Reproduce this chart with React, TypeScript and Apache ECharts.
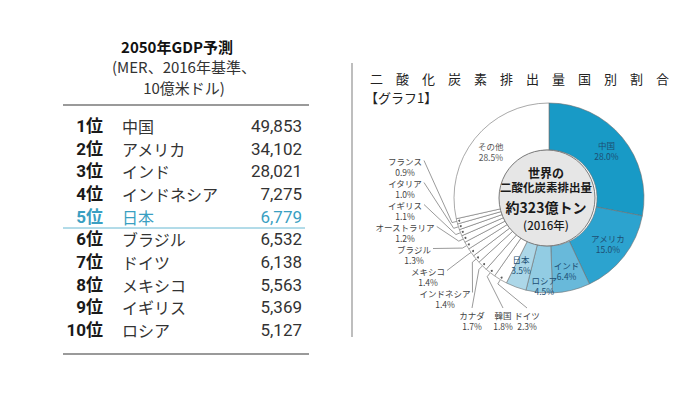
import React, { useEffect, useRef } from "react";
import * as echarts from "echarts";

// ---------------- data ----------------
const gdpTitle = ["2050年GDP予測", "(MER、2016年基準、", "10億米ドル)"];
const gdpRanks = ["1位", "2位", "3位", "4位", "5位", "6位", "7位", "8位", "9位", "10位"];
const gdpCountries = ["中国", "アメリカ", "インド", "インドネシア", "日本", "ブラジル", "ドイツ", "メキシコ", "イギリス", "ロシア"];
const gdpValues = [49853, 34102, 28021, 7275, 6779, 6532, 6138, 5563, 5369, 5127];
const gdpHighlight = "日本";

const co2Title = "二酸化炭素排出量国別割合";
const co2Subtitle = "【グラフ1】";
const co2CenterText = ["世界の", "二酸化炭素排出量", "約323億トン", "(2016年)"];
const co2Names = ["中国", "アメリカ", "インド", "ロシア", "日本", "ドイツ", "韓国", "カナダ", "インドネシア", "メキシコ", "ブラジル", "オーストラリア", "イギリス", "イタリア", "フランス", "その他"];
const co2Shares = [28.0, 15.0, 6.4, 4.5, 3.5, 2.3, 1.8, 1.7, 1.4, 1.4, 1.3, 1.2, 1.1, 1.0, 0.9, 28.5];

// ---------------- layout / style ----------------
const JP = '"Noto Sans CJK JP", "Noto Sans", sans-serif';
const NUM = 'Roboto, "Noto Sans CJK JP", sans-serif';
const HL_BLUE = "#3a9fc2";
const CX = 549;
const CY = 198;
const R_IN = 48;
const R_OUT = 95;
const LBL_FS = 8.5;
const LBL_LH = 11;

const sliceColors: Record<string, string> = {
  "中国": "#189ac6",
  "アメリカ": "#2ca3cf",
  "インド": "#68b9da",
  "ロシア": "#92cce3",
  "日本": "#acd7e8",
};
// label anchor (centre of the two-line label) for the small outside slices
const outLabelPos: Record<string, [number, number]> = {
  "ドイツ": [527, 320],
  "韓国": [503, 320],
  "カナダ": [472, 320],
  "インドネシア": [445, 298],
  "メキシコ": [428, 276],
  "ブラジル": [414, 254],
  "オーストラリア": [405, 232],
  "イギリス": [405, 210],
  "イタリア": [405, 188],
  "フランス": [405, 166],
};
const bottomLabels = new Set(["ドイツ", "韓国", "カナダ"]);
const insideShift: Record<string, { dx: number; dy: number }> = {
  "ロシア": { dx: 3, dy: 13 },
  "日本": { dx: -2, dy: -3 },
};

const total = co2Shares.reduce((a, b) => a + b, 0);

function buildOption(): any {
  const pieData = co2Names.map((name, i) => {
    const inside = !outLabelPos[name];
    return {
      name,
      value: co2Shares[i],
      itemStyle: { color: sliceColors[name] || "#ffffff" },
      label: inside
        ? { position: "inside", color: name === "その他" ? "#555" : "#1d4f73" }
        : { position: "outside", color: "#444" },
      labelLine: { show: !inside },
    };
  });

  // dots at the outer edge of small slices (through a polar scale)
  let cum = 0;
  const dotData: number[][] = [];
  co2Names.forEach((name, i) => {
    const mid = cum + co2Shares[i] / 2;
    cum += co2Shares[i];
    if (outLabelPos[name]) dotData.push([0.975, mid]);
  });

  const graphic: any[] = [];
  gdpTitle.forEach((t, i) => {
    graphic.push({
      type: "text",
      z: 100,
      style: {
        text: t,
        x: i === 0 ? 177 : 184,
        y: [46, 66, 87][i],
        textAlign: "center",
        textVerticalAlign: "middle",
        font: `${i === 0 ? "bold " : ""}15px ${JP}`,
        fill: i === 0 ? "#111" : "#333",
      },
    });
  });
  const rule = (x1: number, y1: number, x2: number, y2: number, stroke: string, w: number) => ({
    type: "line",
    z: 100,
    shape: { x1, y1, x2, y2 },
    style: { stroke, lineWidth: w },
  });
  graphic.push(rule(63, 105, 309, 105, "#9a9a9a", 2));
  graphic.push(rule(63, 228, 305, 228, "#66b8d2", 1));
  graphic.push(rule(63, 354, 309, 354, "#9a9a9a", 2));
  graphic.push(rule(352, 63, 352, 337, "#a8a8a8", 1.5));

  graphic.push({
    type: "text",
    z: 100,
    style: {
      text: co2Title.split("").join("\u3000"),
      x: 370,
      y: 78,
      textAlign: "left",
      textVerticalAlign: "middle",
      font: `13px ${JP}`,
      fill: "#222",
    },
  });
  graphic.push({
    type: "text",
    z: 100,
    style: {
      text: co2Subtitle,
      x: 365,
      y: 97,
      textAlign: "left",
      textVerticalAlign: "middle",
      font: `13px ${JP}`,
      fill: "#222",
    },
  });
  graphic.push({
    type: "circle",
    z: 100,
    shape: { cx: CX - 2, cy: CY, r: R_IN },
    style: { fill: "#e6e6e6", stroke: "#7a7a7a", lineWidth: 1 },
  });
  const centerFonts = [`bold 12px ${JP}`, `bold 11.5px ${JP}`, `bold 14px ${JP}`, `500 11.5px ${JP}`];
  const centerY = [172, 187, 207, 225];
  co2CenterText.forEach((t, i) => {
    graphic.push({
      type: "text",
      z: 101,
      style: {
        text: t,
        x: CX - 3,
        y: centerY[i],
        textAlign: "center",
        textVerticalAlign: "middle",
        font: centerFonts[i],
        fill: "#1a1a1a",
      },
    });
  });

  const hidden = { show: false };
  const rowLabel = (extra: any) => ({
    interval: 0,
    fontSize: 16,
    fontFamily: JP,
    ...extra,
  });

  return {
    animation: false,
    backgroundColor: "#ffffff",
    grid: { left: 122, right: 398, top: 114.7, height: 226.7, containLabel: false },
    xAxis: { type: "value", show: false },
    yAxis: [
      {
        type: "category",
        data: gdpRanks,
        inverse: true,
        position: "left",
        axisLine: hidden,
        axisTick: hidden,
        splitLine: hidden,
        axisLabel: rowLabel({
          margin: 19,
          align: "right",
          fontSize: 17,
          fontWeight: "bold",
          fontFamily: NUM,
          color: (_v: any, idx: number) => (gdpCountries[idx] === gdpHighlight ? HL_BLUE : "#1a1a1a"),
        }),
      },
      {
        type: "category",
        data: gdpCountries,
        inverse: true,
        position: "left",
        axisLine: hidden,
        axisTick: hidden,
        splitLine: hidden,
        axisLabel: rowLabel({
          inside: true,
          margin: 0,
          align: "left",
          color: (v: any) => (v === gdpHighlight ? HL_BLUE : "#333"),
        }),
      },
      {
        type: "category",
        data: gdpValues.map((v) => v.toLocaleString("en-US")),
        inverse: true,
        position: "right",
        axisLine: hidden,
        axisTick: hidden,
        splitLine: hidden,
        axisLabel: rowLabel({
          inside: true,
          margin: 0,
          align: "right",
          fontSize: 17,
          fontFamily: NUM,
          color: (_v: any, idx: number) => (gdpCountries[idx] === gdpHighlight ? HL_BLUE : "#333"),
        }),
      },
    ],
    polar: { center: [CX, CY], radius: R_OUT },
    angleAxis: { type: "value", min: 0, max: total, startAngle: 90, clockwise: true, show: false },
    radiusAxis: { type: "value", min: 0, max: 1, show: false },
    graphic,
    series: [
      {
        type: "pie",
        center: [CX, CY],
        radius: [R_IN, R_OUT],
        startAngle: 90,
        clockwise: true,
        avoidLabelOverlap: false,
        silent: true,
        z: 2,
        itemStyle: { borderColor: "#6e6e6e", borderWidth: 0.6 },
        label: {
          fontSize: LBL_FS,
          lineHeight: LBL_LH,
          fontFamily: JP,
          formatter: (p: any) => `${p.name}\n${Number(p.value).toFixed(1)}%`,
        },
        labelLine: { lineStyle: { color: "#555", width: 0.6 } },
        labelLayout: (p: any) => {
          const name = co2Names[p.dataIndex];
          const pos = outLabelPos[name];
          if (!pos) {
            return insideShift[name] || {};
          }
          const [lx, ly] = pos;
          const pts = p.labelLinePoints;
          if (!pts) return { x: lx, y: ly, align: "center", verticalAlign: "middle" };
          const p0 = pts[0];
          const dx = p0[0] - CX;
          const dy = p0[1] - CY;
          const len = Math.hypot(dx, dy) || 1;
          const p1 = [p0[0] + (dx / len) * 5, p0[1] + (dy / len) * 5];
          const nameW = name.length * LBL_FS;
          const attach = bottomLabels.has(name)
            ? [lx, ly - LBL_LH - 1]
            : [lx + nameW / 2 + 2, ly - LBL_LH / 2];
          return {
            x: lx,
            y: ly,
            align: "center",
            verticalAlign: "middle",
            labelLinePoints: [p0, p1, attach],
          };
        },
        data: pieData,
      },
      {
        type: "scatter",
        coordinateSystem: "polar",
        symbolSize: 2,
        silent: true,
        z: 5,
        itemStyle: { color: "#333" },
        data: dotData,
      },
    ],
  };
}

export default function App() {
  const ref = useRef<HTMLDivElement>(null);
  useEffect(() => {
    if (!ref.current) return;
    const chart = echarts.init(ref.current, null, { renderer: "svg" });
    chart.setOption(buildOption());
    return () => chart.dispose();
  }, []);
  return (
    <div
      ref={ref}
      style={{ position: "fixed", left: 0, top: 0, width: 700, height: 394, background: "#fff" }}
    />
  );
}
